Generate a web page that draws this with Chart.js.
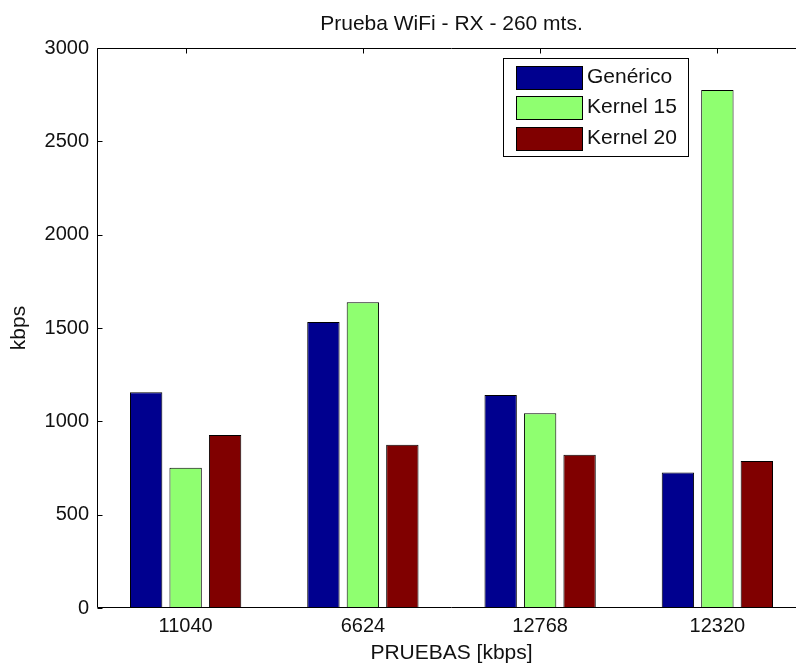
<!DOCTYPE html>
<html><head><meta charset="utf-8">
<script src="https://cdn.jsdelivr.net/npm/chart.js@4/dist/chart.umd.min.js"></script>
<style>
html,body{margin:0;padding:0;background:#fff;overflow:hidden;width:796px;height:666px}
#wrap{width:812px;height:666px}
</style></head>
<body><div id="wrap"><canvas id="c" width="812" height="666"></canvas></div>
<script>
const categories = ['11040', '6624', '12768', '12320'];
const generico = [1156, 1532, 1141, 726];
const kernel15 = [752, 1638, 1043, 2775];
const kernel20 = [927, 875, 821, 787];
const seriesNames = ['Genérico', 'Kernel 15', 'Kernel 20'];
const yTicks = [0, 500, 1000, 1500, 2000, 2500, 3000];
const titleText = 'Prueba WiFi - RX - 260 mts.';
const xTitle = 'PRUEBAS [kbps]';
const yTitle = 'kbps';

const colors = ['rgb(0,0,143)', 'rgb(143,255,112)', 'rgb(128,0,0)'];
const FONT = '"Liberation Sans", Arial, Helvetica, sans-serif';
Chart.defaults.font.family = FONT;

const framePlugin = {
  id: 'frame',
  beforeDatasetsDraw(chart) {
    const {ctx, chartArea: a, scales: {x, y}} = chart;
    ctx.save();
    ctx.strokeStyle = '#000';
    ctx.lineWidth = 1;
    const L = Math.round(a.left) + 0.5, R = Math.round(a.right) - 0.5;
    const T = Math.round(a.top) + 0.5, B = Math.round(a.bottom) - 0.5;
    ctx.beginPath();
    ctx.moveTo(L, T); ctx.lineTo(R, T); ctx.lineTo(R, B); ctx.lineTo(L, B); ctx.closePath();
    const tl = 5;
    y.ticks.forEach(t => {
      const py = Math.round(y.getPixelForValue(t.value)) + 0.5;
      ctx.moveTo(L, py); ctx.lineTo(L + tl, py);
      ctx.moveTo(R, py); ctx.lineTo(R - tl, py);
    });
    categories.forEach((c, i) => {
      const px = Math.round(x.getPixelForValue(i)) + 0.5;
      ctx.moveTo(px, B); ctx.lineTo(px, B - tl);
      ctx.moveTo(px, T); ctx.lineTo(px, T + tl);
    });
    ctx.stroke();
    ctx.restore();
  }
};

const legendPlugin = {
  id: 'matlabLegend',
  afterDraw(chart) {
    const ctx = chart.ctx;
    ctx.save();
    const bx = 503.5, by = 58.5, bw = 185, bh = 98;
    ctx.fillStyle = '#fff';
    ctx.fillRect(bx, by, bw, bh);
    ctx.strokeStyle = '#000';
    ctx.lineWidth = 1;
    ctx.strokeRect(bx, by, bw, bh);
    ctx.font = '21px ' + FONT;
    ctx.textBaseline = 'middle';
    ctx.textAlign = 'left';
    chart.data.datasets.forEach((ds, i) => {
      const cy = 77 + i * 30.5;
      const top = Math.round(cy - 11.5) + 0.5;
      ctx.fillStyle = ds.backgroundColor;
      ctx.fillRect(516.5, top, 66, 23);
      ctx.strokeStyle = '#000';
      ctx.strokeRect(516.5, top, 66, 23);
      ctx.fillStyle = '#111';
      ctx.fillText(ds.label, 587, cy);
    });
    ctx.restore();
  }
};

new Chart(document.getElementById('c'), {
  type: 'bar',
  data: {
    labels: categories,
    datasets: [
      {label: seriesNames[0], data: generico, backgroundColor: colors[0]},
      {label: seriesNames[1], data: kernel15, backgroundColor: colors[1]},
      {label: seriesNames[2], data: kernel20, backgroundColor: colors[2]}
    ].map(d => Object.assign(d, {borderColor: '#000', borderWidth: 1, borderSkipped: false, categoryPercentage: 0.668, barPercentage: 0.82}))
  },
  options: {
    responsive: false,
    animation: false,
    layout: {padding: {left: 0, right: 6, top: 0, bottom: 0}},
    plugins: {
      legend: {display: false},
      tooltip: {enabled: false},
      title: {
        display: true, text: titleText, fullSize: false, color: '#111',
        font: {size: 21, weight: 'normal'}, padding: {top: 11.4, bottom: 11.4}
      }
    },
    scales: {
      x: {
        grid: {display: false, drawTicks: false},
        border: {display: false},
        ticks: {color: '#111', font: {size: 20}, padding: 6, maxRotation: 0, autoSkip: false},
        title: {display: true, text: xTitle, color: '#111', font: {size: 21}, padding: {top: 0, bottom: 0}},
        afterFit(s) { s.height = 58; }
      },
      y: {
        min: 0, max: 3000,
        grid: {display: false, drawTicks: false},
        border: {display: false},
        afterBuildTicks(s) { s.ticks = yTicks.map(v => ({value: v})); },
        ticks: {color: '#111', font: {size: 20}, padding: 8, callback: v => String(v)},
        title: {display: true, text: yTitle, color: '#111', font: {size: 21}, padding: {top: 7, bottom: 0}},
        afterFit(s) { s.width = 97; }
      }
    }
  },
  plugins: [framePlugin, legendPlugin]
});
</script>
</body></html>
